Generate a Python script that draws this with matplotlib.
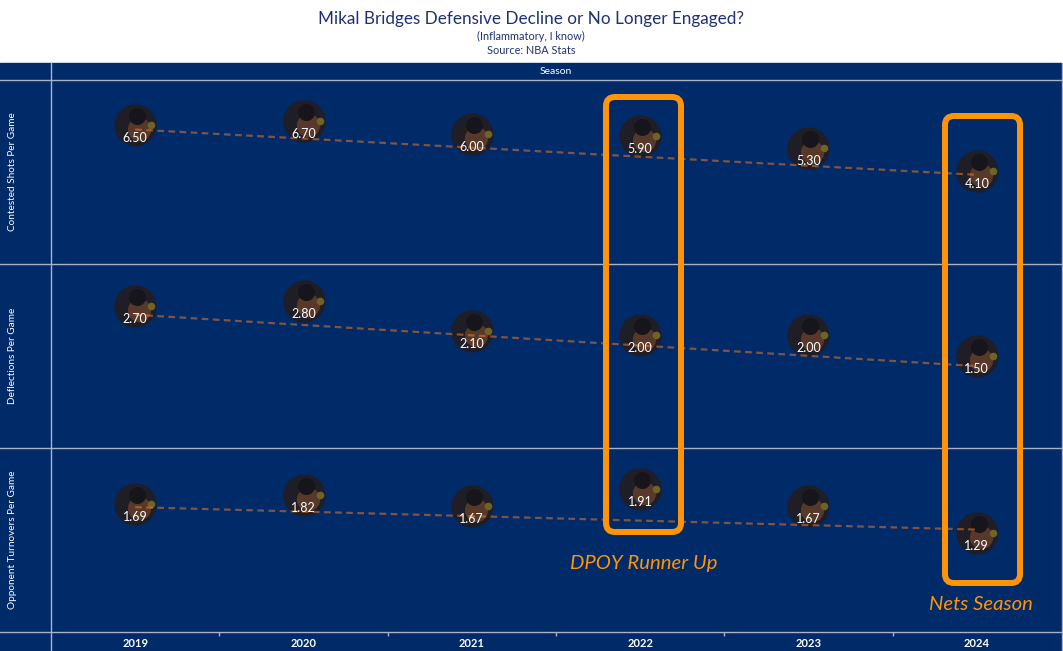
import numpy as np
import matplotlib
matplotlib.use('Agg')
import matplotlib.pyplot as plt
from matplotlib.patches import Rectangle, FancyBboxPatch
from matplotlib.lines import Line2D
from matplotlib.transforms import offset_copy, IdentityTransform

# data
seasons = ['2019', '2020', '2021', '2022', '2023', '2024']
metrics = ['Contested Shots Per Game', 'Deflections Per Game', 'Opponent Turnovers Per Game']
contested = [6.50, 6.70, 6.00, 5.90, 5.30, 4.10]
deflections = [2.70, 2.80, 2.10, 2.00, 2.00, 1.50]
opp_turnovers = [1.69, 1.82, 1.67, 1.91, 1.67, 1.29]
series = [contested, deflections, opp_turnovers]

plt.rcParams['font.family'] = ['Lato', 'DejaVu Sans']

NAVY = '#002a68'
GRID = '#a9b2c6'
ORANGE = '#ff9408'
TITLE_C = '#1f3170'

W, H = 1063, 651
fig = plt.figure(figsize=(W / 100, H / 100), dpi=100)
fig.patch.set_facecolor('white')

def fx(x):
    return x / W

def fy(y):
    return 1 - y / H

# navy panel
fig.add_artist(Rectangle((0, fy(651)), fx(1061), (651 - 63) / H,
                         transform=fig.transFigure, color=NAVY, zorder=-5))

# titles
fig.text(fx(531), fy(19), 'Mikal Bridges Defensive Decline or No Longer Engaged?',
         ha='center', va='center', fontsize=12.3, color=TITLE_C)
fig.text(fx(531), fy(36), '(Inflammatory, I know)', ha='center', va='center',
         fontsize=7.8, color=TITLE_C)
fig.text(fx(531), fy(50), 'Source: NBA Stats', ha='center', va='center',
         fontsize=7.8, color=TITLE_C)
fig.text(fx(556), fy(72), 'Season', ha='center', va='center', fontsize=7.5, color='white')

# grid lines
for yy in [80, 264, 448, 632]:
    fig.add_artist(Line2D([0, fx(1061)], [fy(yy), fy(yy)], transform=fig.transFigure,
                          color=GRID, lw=1, zorder=4))
fig.add_artist(Line2D([fx(51), fx(51)], [fy(63), fy(651)], transform=fig.transFigure,
                      color=GRID, lw=1, zorder=4))
fig.add_artist(Line2D([fx(1061.5), fx(1061.5)], [fy(63), fy(651)], transform=fig.transFigure,
                      color=GRID, lw=1, zorder=4))

rows = [(80, 264), (264, 448), (448, 632)]
ylims = [(0.0, 9.46), (-0.36, 3.99), (0.075, 2.666)]
x = np.arange(len(seasons))

axes = []
for i, (top, bot) in enumerate(rows):
    ax = fig.add_axes([fx(51), fy(bot), (1061 - 51) / W, (bot - top) / H])
    ax.set_facecolor('none')
    ax.set_xlim(-0.5, len(seasons) - 0.5)
    ax.set_ylim(*ylims[i])
    for s in ax.spines.values():
        s.set_visible(False)
    ax.set_yticks([])
    ax.set_xticks([])
    vals = series[i]

    # player "photo" markers (shifted up above the data point)
    up = offset_copy(ax.transData, fig=fig, x=0, y=13, units='dots')
    face = offset_copy(ax.transData, fig=fig, x=4, y=9, units='dots')
    hair = offset_copy(ax.transData, fig=fig, x=2, y=22, units='dots')
    light = offset_copy(ax.transData, fig=fig, x=16, y=13, units='dots')
    ax.scatter(x, vals, s=920, color='#1f1d26', transform=up, zorder=2, linewidths=0)
    ax.scatter(x, vals, s=280, color='#573829', marker='o', transform=face, zorder=2,
               linewidths=0)
    ax.scatter(x, vals, s=150, color='#17151c', marker='o', transform=hair, zorder=2,
               linewidths=0)
    ax.scatter(x, vals, s=30, color='#6f6428', transform=light, zorder=2, linewidths=0)

    # linear trend line
    k, b = np.polyfit(x, vals, 1)
    ax.plot([x[0], x[-1]], [b, k * x[-1] + b], ls=(0, (3, 2)), color='#e8782a',
            alpha=0.55, lw=1.6, zorder=3)

    for xi, v in zip(x, vals):
        ax.text(xi, v, '{:.2f}'.format(v), ha='center', va='center',
                fontsize=9, color='white', zorder=4)

    # row header
    fig.text(fx(13), fy((top + bot) / 2), metrics[i], rotation=90, ha='center',
             va='center', fontsize=7.2, color='white')
    axes.append(ax)

# season axis
ax3 = axes[-1]
ax3.set_xticks(x, seasons)
ax3.tick_params(axis='x', length=0, pad=4, labelsize=8, labelcolor='white')
for lab in ax3.get_xticklabels():
    lab.set_fontweight('bold')
ax3.set_xticks(x[:-1] + 0.5, minor=True)
ax3.tick_params(axis='x', which='minor', length=3, color=GRID, width=1)

# highlight boxes
boxes = [(606, 97, 681, 532), (945, 116, 1020, 583)]
for (x0, y0, x1, y1) in boxes:
    fig.add_artist(FancyBboxPatch((x0, H - y1), x1 - x0, y1 - y0,
                                  boxstyle='round,pad=0,rounding_size=9',
                                  transform=IdentityTransform(), fill=False,
                                  ec=ORANGE, lw=4.3, zorder=5))

fig.text(fx(643.5), fy(564), 'DPOY Runner Up', ha='center', va='center',
         fontsize=14.6, style='italic', color=ORANGE)
fig.text(fx(981), fy(604), 'Nets Season', ha='center', va='center',
         fontsize=14.6, style='italic', color=ORANGE)

fig.savefig('out.png', dpi=100)
